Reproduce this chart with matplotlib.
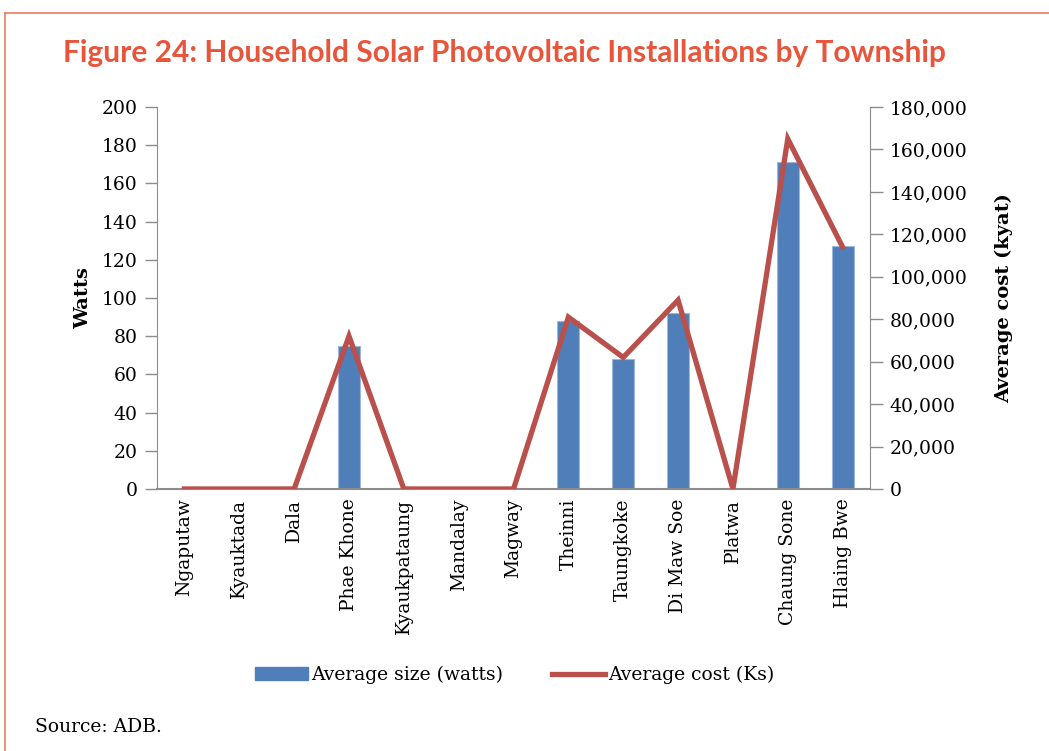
import matplotlib.pyplot as plt
from matplotlib.lines import Line2D
from matplotlib.patches import Patch
from matplotlib.ticker import FuncFormatter

# Datos
townships = ['Ngaputaw', 'Kyauktada', 'Dala', 'Phae Khone', 'Kyaukpataung',
             'Mandalay', 'Magway', 'Theinni', 'Taungkoke', 'Di Maw Soe',
             'Platwa', 'Chaung Sone', 'Hlaing Bwe']
avg_size = [0, 0, 0, 75, 0, 0, 0, 88, 68, 92, 0, 171, 127]
avg_cost = [0, 0, 0, 72000, 0, 0, 0, 81000, 62000, 89000, 0, 165000, 114000]

serif = 'DejaVu Serif'
blue = '#4F7EB8'
red = '#B9504C'
orange = '#E8553A'
grey = '#8C8C8C'

fig = plt.figure(figsize=(10.49, 7.51), dpi=100)
ax = fig.add_axes([0.1497, 0.3489, 0.6797, 0.5086])
ax2 = ax.twinx()

x = range(len(townships))
ax.bar(x, avg_size, width=0.4, color=blue, edgecolor='#9DB7DC', linewidth=0.8, zorder=2)
ax2.plot(x, avg_cost, color=red, linewidth=3.8, solid_joinstyle='miter', zorder=3)

ax.set_xlim(-0.5, len(townships) - 0.5)
ax.set_ylim(0, 200)
ax.set_yticks(range(0, 201, 20))
ax2.set_ylim(0, 180000)
ax2.set_yticks(range(0, 180001, 20000))
ax2.yaxis.set_major_formatter(FuncFormatter(lambda v, p: f'{int(v):,}'))

ax.set_xticks(list(x))
ax.set_xticklabels(townships, rotation=90, fontsize=13.5, family=serif)
ax.tick_params(axis='x', length=0, pad=7)
for a in (ax, ax2):
    a.tick_params(axis='y', labelsize=13.5, length=9, width=1, color=grey, pad=5)
    for lbl in a.get_yticklabels():
        lbl.set_family(serif)
    for s in a.spines.values():
        s.set_visible(False)

ax.spines['left'].set_visible(True)
ax.spines['left'].set_color(grey)
ax.spines['bottom'].set_visible(True)
ax.spines['bottom'].set_color(grey)
ax.spines['bottom'].set_linewidth(1.5)
ax2.spines['right'].set_visible(True)
ax2.spines['right'].set_color(grey)
ax.set_zorder(ax2.get_zorder() - 1)
ax.patch.set_visible(False)

ax.set_ylabel('Watts', fontsize=14, family=serif, fontweight='bold', labelpad=7)
ax2.set_ylabel('Average cost (kyat)', fontsize=14, family=serif, fontweight='bold', labelpad=20)

# Título y marco
fig.text(0.481, 0.93, 'Figure 24: Household Solar Photovoltaic Installations by Township',
         ha='center', va='center', fontsize=21.5, fontweight='bold', family='Lato', color=orange)
fig.add_artist(Line2D([0.005, 1.0], [0.983, 0.983], color='#EC7A5E', linewidth=1.2))
fig.add_artist(Line2D([0.005, 0.005], [0.0, 0.983], color='#EC7A5E', linewidth=1.2))

# Leyenda
handles = [Patch(facecolor=blue, edgecolor=blue), Line2D([0], [0], color=red, linewidth=3.8)]
fig.legend(handles, ['Average size (watts)', 'Average cost (Ks)'], loc='center',
           bbox_to_anchor=(0.491, 0.101), ncol=2, frameon=False,
           prop={'family': serif, 'size': 13.5}, handlelength=2.8,
           handletextpad=0.2, columnspacing=2.6)

fig.text(0.033, 0.032, 'Source: ADB.', fontsize=13.5, family=serif, va='center')

fig.savefig('out.png', dpi=100)
